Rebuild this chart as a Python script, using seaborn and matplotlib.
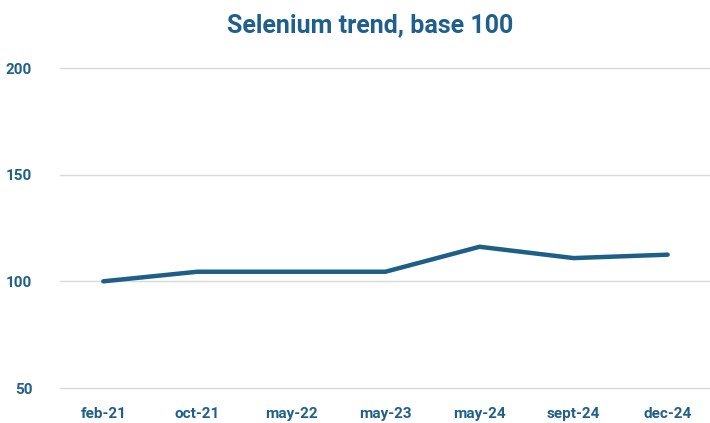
import matplotlib
matplotlib.use("Agg")
import matplotlib.pyplot as plt
import seaborn as sns
import pandas as pd

categories = ["feb-21", "oct-21", "may-22", "may-23", "may-24", "sept-24", "dec-24"]
values = [100, 104.5, 104.5, 104.5, 116.2, 110.9, 112.5]
yticks = [50, 100, 150, 200]

sns.set_theme(style="white")
plt.rcParams['font.family'] = ['Roboto', 'DejaVu Sans']

df = pd.DataFrame({"period": categories, "value": values})
df["x"] = range(len(categories))

fig = plt.figure(figsize=(7.10, 4.23), dpi=100)
ax = fig.add_axes([60/710, 1-388/423, 1-60/710, (388-68)/423])

color = "#1d5f86"
txt = "#1f5f8c"
sns.lineplot(data=df, x="x", y="value", ax=ax, color=color, linewidth=3.2)

ax.set_xlim(-0.46, 6.45)
ax.set_ylim(50, 200)
ax.set_yticks(yticks)
ax.set_yticklabels([str(t) for t in yticks], fontsize=11, fontweight="bold", color=txt)
ax.set_xticks(df["x"])
ax.set_xticklabels(categories, fontsize=11, fontweight="bold", color=txt)
ax.tick_params(axis="x", pad=14, length=0)
ax.tick_params(axis="y", pad=20, length=0)
ax.grid(axis="y", color="#d9d9d9", linewidth=1)
for gl in ax.get_ygridlines():
    gl.set_clip_on(False)
ax.set_axisbelow(True)
for s in ax.spines.values():
    s.set_visible(False)
ax.set_xlabel("")
ax.set_ylabel("")

fig.text(370/710, 1-25/423, "Selenium trend, base 100", ha="center", va="center",
         fontsize=18, fontweight="bold", color=txt)

fig.savefig("out.png", dpi=100)
